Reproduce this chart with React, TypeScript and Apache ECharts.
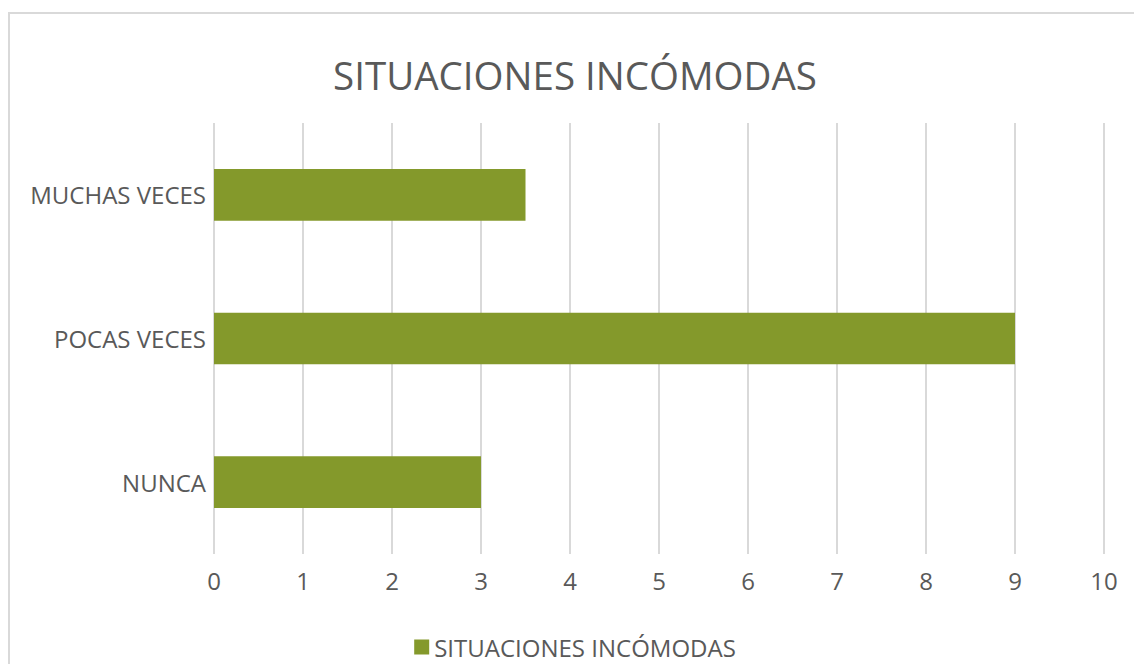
import React, { useEffect, useRef } from "react";
import * as echarts from "echarts";

const categories = ["NUNCA", "POCAS VECES", "MUCHAS VECES"];
const values = [3, 9, 3.5];
const seriesName = "SITUACIONES INCÓMODAS";
const titleText = "SITUACIONES INCÓMODAS";

export default function App() {
  const ref = useRef<HTMLDivElement>(null);
  useEffect(() => {
    if (!ref.current) return;
    const chart = echarts.init(ref.current, undefined, { renderer: "svg" });
    const font = "'Open Sans', 'Noto Sans', sans-serif";
    chart.setOption({
      animation: false,
      backgroundColor: "#ffffff",
      textStyle: { fontFamily: font },
      title: {
        text: titleText,
        left: "center",
        top: 42,
        textStyle: { fontFamily: font, fontSize: 38.5, fontWeight: "normal", color: "#595959" },
      },
      legend: {
        bottom: 0,
        left: "center",
        itemWidth: 15,
        itemHeight: 15,
        icon: "rect",
        itemGap: 8,
        textStyle: { fontFamily: font, fontSize: 24, color: "#595959" },
        data: [seriesName],
      },
      grid: { left: 206, top: 115, width: 890, height: 431, containLabel: false },
      xAxis: {
        type: "value",
        min: 0,
        max: 10,
        interval: 1,
        axisLine: { show: false },
        axisTick: { show: false },
        splitLine: { show: true, lineStyle: { color: "#d9d9d9", width: 2 } },
        axisLabel: { fontFamily: font, fontSize: 24, color: "#595959", margin: 14 },
      },
      yAxis: {
        type: "category",
        data: categories,
        axisLine: { show: false },
        axisTick: { show: false },
        axisLabel: { fontFamily: font, fontSize: 24, color: "#595959", margin: 8 },
      },
      series: [
        {
          name: seriesName,
          type: "bar",
          data: values,
          barCategoryGap: "64%",
          itemStyle: { color: "#84992B" },
        },
      ],
      graphic: [
        {
          type: "rect",
          silent: true,
          shape: { x: 1, y: 5, width: 1131, height: 700 },
          style: { fill: "none", stroke: "#d9d9d9", lineWidth: 2 },
          z: -1,
        },
      ],
    });
    return () => chart.dispose();
  }, []);
  return <div ref={ref} style={{ width: 1134, height: 656 }} />;
}
